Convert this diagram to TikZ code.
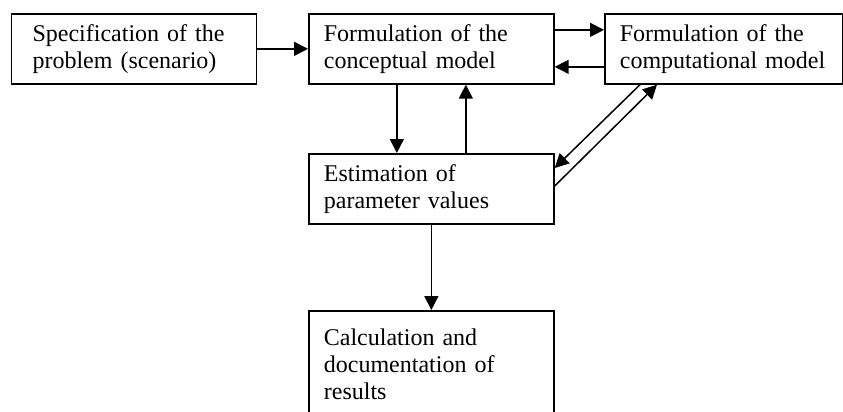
\documentclass[tikz,border=0pt]{standalone}
\usepackage{fontspec}
\setmainfont{Liberation Serif}
\usepackage{tikz}
\usetikzlibrary{arrows.meta}

\begin{document}
\begin{tikzpicture}[x=1pt,y=-1pt]
    \def\bw{245}
    \def\bh{70}
    \tikzstyle{box}=[draw, line width=1.7pt, rectangle, anchor=north west, align=left,
        inner xsep=15pt, inner ysep=0pt, minimum height=\bh pt, text width=\bw pt-30pt,
        font=\fontsize{24}{27}\selectfont]
    \tikzstyle{flow}=[-{Triangle[length=14pt,width=14pt]}, draw=black, line width=1.5pt]

    \useasboundingbox (0,0) rectangle (843,412);

    \node[box, inner xsep=21pt, text width=\bw pt-42pt] (spec) at (10.7,13) {Specification of the\\problem (scenario)};
    \node[box] (concept) at (308,13) {Formulation of the\\conceptual model};
    \node[box, text width=238pt-30pt] (comput) at (604,13) {Formulation of the\\computational model};
    \node[box] (estim) at (308,153) {Estimation of\\parameter values};
    \node[box, minimum height=106pt] (calc) at (308,310) {Calculation and\\documentation of\\results};

    \draw [flow] (spec) -- (concept);
    \draw [flow] ([yshift=19pt]concept.east) -- ([yshift=19pt]comput.west);
    \draw [flow] ([yshift=-18pt]comput.west) -- ([yshift=-18pt]concept.east);

    \draw [flow] ([xshift=-34.5pt]concept.south) -- ([xshift=-34.5pt]estim.north);
    \draw [flow] ([xshift=34.5pt]estim.north) -- ([xshift=34.5pt]concept.south);

    \draw [flow] ([xshift=36pt]comput.south west) -- ([yshift=-15pt]estim.north east);
    \draw [flow] ([yshift=-33pt]estim.north east) -- ([xshift=53pt]comput.south west);

    \draw [flow] (estim) -- (calc);
\end{tikzpicture}
\end{document}
